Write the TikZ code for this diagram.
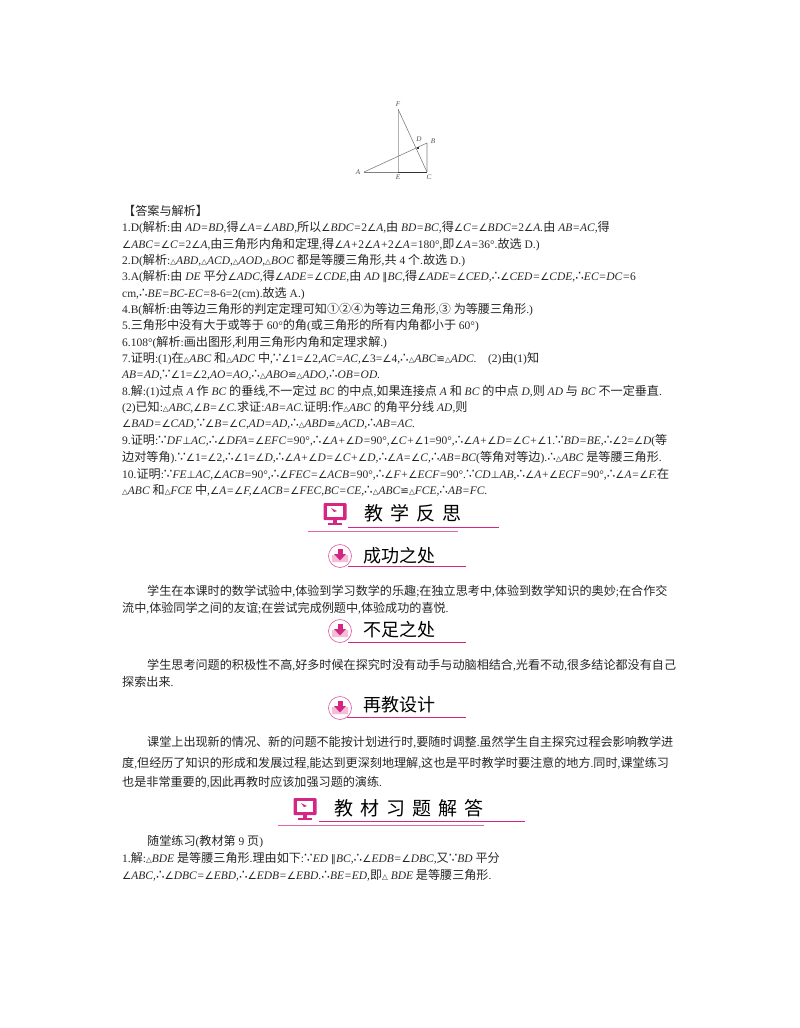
\documentclass[tikz,border=0pt]{standalone}
\usepackage{fontspec}
\setmainfont[Scale=0.95]{Liberation Serif}
\newfontfamily\cjk{Noto Sans CJK SC}
\newfontfamily\symf[Scale=0.85]{DejaVu Sans}
\newfontfamily\ptsf[Scale=1.12]{DejaVu Sans}
\newfontfamily\trif[Scale=0.62]{DejaVu Sans}
\XeTeXinterchartokenstate=1
\newXeTeXintercharclass\zhclass
\newXeTeXintercharclass\symclass
\newXeTeXintercharclass\ptsclass
\newXeTeXintercharclass\triclass
\newcount\zhcount
\newcommand{\setrange}[3]{\zhcount=#2 \loop\XeTeXcharclass\zhcount=#1\ifnum\zhcount<#3 \advance\zhcount by 1 \repeat}
\setrange{\zhclass}{"4E00}{"9FFF}
\setrange{\zhclass}{"3000}{"301F}
\setrange{\zhclass}{"2460}{"2473}
\setrange{\symclass}{"2220}{"2220}
\setrange{\ptsclass}{"2234}{"2235}
\setrange{\symclass}{"224C}{"224C}
\setrange{\symclass}{"2225}{"2225}
\setrange{\symclass}{"22A5}{"22A5}
\setrange{\triclass}{"25B3}{"25B3}
% font switches between the character classes
\newcommand{\enterclass}[2]{%
  \XeTeXinterchartoks 0 #1 = {\begingroup#2}%
  \XeTeXinterchartoks 4095 #1 = {\begingroup#2}%
  \XeTeXinterchartoks #1 0 = {\endgroup}%
  \XeTeXinterchartoks #1 4095 = {\endgroup}%
  \XeTeXinterchartoks \zhclass #1 = {\endgroup\begingroup#2}%
  \XeTeXinterchartoks \symclass #1 = {\endgroup\begingroup#2}%
  \XeTeXinterchartoks \ptsclass #1 = {\endgroup\begingroup#2}%
  \XeTeXinterchartoks \triclass #1 = {\endgroup\begingroup#2}}
\enterclass{\zhclass}{\cjk}
\enterclass{\symclass}{\symf}
\enterclass{\ptsclass}{\ptsf}
\enterclass{\triclass}{\trif}
\definecolor{rose}{RGB}{214,38,132}
\definecolor{rosepale}{RGB}{245,190,215}
\newcommand{\mi}[1]{\textit{#1}}
\tikzset{
  txtline/.style={anchor=west, inner sep=0pt, font=\fontsize{12.1}{14}\selectfont, text=black!85},
  headbig/.style={anchor=west, inner sep=0pt, font=\fontsize{19}{21}\selectfont},
  headsmall/.style={anchor=west, inner sep=0pt, font=\fontsize{18}{20}\selectfont},
  ptlabel/.style={inner sep=0pt, font=\fontsize{7.5}{8}\selectfont\itshape, text=black!70},
  seg/.style={draw=black!50, line width=0.6pt},
  rule/.style={draw=rose, line width=0.9pt},
  rulepale/.style={draw=rose!70, line width=0.7pt},
}
\newcommand{\monitor}[2]{%
  \fill[rose, rounded corners=1pt] (#1-11.5,#2-11) rectangle (#1+11.5,#2+6);
  \fill[white] (#1-8,#2-8) rectangle (#1+8,#2+3);
  \fill[rose] (#1-4,#2-6) -- (#1+2,#2-3) -- (#1-1,#2-2) -- cycle;
  \fill[rose] (#1-2,#2+6) rectangle (#1+2,#2+9);
  \fill[rose] (#1-7,#2+9) rectangle (#1+7,#2+11);
}
\newcommand{\downicon}[2]{%
  \draw[rose!70, line width=0.7pt, fill=white] (#1,#2) circle (11.5);
  \fill[rosepale] (#1-8,#2-1) -- (#1-3,#2-1) -- (#1,#2+3) -- (#1+3,#2-1) -- (#1+8,#2-1) -- (#1+8,#2+6) -- (#1-8,#2+6) -- cycle;
  \fill[rose] (#1-2.5,#2-7) rectangle (#1+2.5,#2-1);
  \fill[rose] (#1-6,#2-2) -- (#1+6,#2-2) -- (#1,#2+4.5) -- cycle;
}
\begin{document}
\begin{tikzpicture}[x=1pt, y=-1pt]
\useasboundingbox (0,0) rectangle (800,1028);

% triangle figure
\coordinate (A) at (364,172);
\coordinate (E) at (398,172);
\coordinate (C) at (427,172);
\coordinate (F) at (398,109);
\coordinate (B) at (427,143);
\coordinate (D) at (417,148);
\draw[seg] (A) -- (E);
\draw[black!80, line width=1pt] (E) -- (C);
\draw[black!30, line width=0.6pt] (F) -- (E);
\draw[seg] (F) -- (C);
\draw[seg] (A) -- (B) -- (C);
\fill[black!80] (417,146.5) rectangle (419,148.5);
\node[ptlabel] (lblF) at (398,104) {F};
\node[ptlabel] (lblD) at (419,139) {D};
\node[ptlabel] (lblB) at (433,141) {B};
\node[ptlabel] (lblA) at (358,172) {A};
\node[ptlabel] (lblE) at (398,177) {E};
\node[ptlabel] (lblC) at (429,177) {C};

% answers
\node[txtline] (l0) at (123,211) {【答案与解析】};
\node[txtline] (l1) at (122,228) {1.D(解析:由 \mi{AD=BD,}得∠\mi{A=}∠\mi{ABD,}所以∠\mi{BDC=}2∠\mi{A,}由 \mi{BD=BC,}得∠\mi{C=}∠\mi{BDC=}2∠\mi{A.}由 \mi{AB=AC,}得};
\node[txtline] (l2) at (122,245) {∠\mi{ABC=}∠\mi{C=}2∠\mi{A,}由三角形内角和定理,得∠\mi{A+}2∠\mi{A+}2∠\mi{A=}180°,即∠\mi{A=}36°.故选 D.)};
\node[txtline] (l3) at (122,261) {2.D(解析:△\mi{ABD,}△\mi{ACD,}△\mi{AOD,}△\mi{BOC} 都是等腰三角形,共 4 个.故选 D.)};
\node[txtline] (l4) at (122,277) {3.A(解析:由 \mi{DE} 平分∠\mi{ADC,}得∠\mi{ADE=}∠\mi{CDE,}由 \mi{AD} ∥\mi{BC,}得∠\mi{ADE=}∠\mi{CED,}∴∠\mi{CED=}∠\mi{CDE,}∴\mi{EC=DC=}6};
\node[txtline] (l5) at (122,294) {cm,∴\mi{BE=BC-EC=}8-6=2(cm).故选 A.)};
\node[txtline] (l6) at (122,310) {4.B(解析:由等边三角形的判定定理可知①②④为等边三角形,③ 为等腰三角形.)};
\node[txtline] (l7) at (122,326) {5.三角形中没有大于或等于 60°的角(或三角形的所有内角都小于 60°)};
\node[txtline] (l8) at (122,343) {6.108°(解析:画出图形,利用三角形内角和定理求解.)};
\node[txtline] (l9) at (122,359) {7.证明:(1)在△\mi{ABC} 和△\mi{ADC} 中,∵∠1=∠2,\mi{AC=AC,}∠3=∠4,∴△\mi{ABC}≌△\mi{ADC.}\quad(2)由(1)知};
\node[txtline] (l10) at (122,375) {\mi{AB=AD,}∵∠1=∠2,\mi{AO=AO,}∴△\mi{ABO}≌△\mi{ADO,}∴\mi{OB=OD.}};
\node[txtline] (l11) at (122,392) {8.解:(1)过点 \mi{A} 作 \mi{BC} 的垂线,不一定过 \mi{BC} 的中点,如果连接点 \mi{A} 和 \mi{BC} 的中点 \mi{D,}则 \mi{AD} 与 \mi{BC} 不一定垂直.};
\node[txtline] (l12) at (122,408) {(2)已知:△\mi{ABC,}∠\mi{B=}∠\mi{C.}求证:\mi{AB=AC.}证明:作△\mi{ABC} 的角平分线 \mi{AD,}则};
\node[txtline] (l13) at (122,424) {∠\mi{BAD=}∠\mi{CAD,}∵∠\mi{B=}∠\mi{C,AD=AD,}∴△\mi{ABD}≌△\mi{ACD,}∴\mi{AB=AC.}};
\node[txtline] (l14) at (122,441) {9.证明:∵\mi{DF}⊥\mi{AC,}∴∠\mi{DFA=}∠\mi{EFC=}90°,∴∠\mi{A+}∠\mi{D=}90°,∠\mi{C+}∠1=90°,∴∠\mi{A+}∠\mi{D=}∠\mi{C+}∠1.∵\mi{BD=BE,}∴∠2=∠\mi{D}(等};
\node[txtline] (l15) at (122,458) {边对等角).∵∠1=∠2,∴∠1=∠\mi{D,}∴∠\mi{A+}∠\mi{D=}∠\mi{C+}∠\mi{D,}∴∠\mi{A=}∠\mi{C,}∴\mi{AB=BC}(等角对等边).∴△\mi{ABC} 是等腰三角形.};
\node[txtline] (l16) at (122,474) {10.证明:∵\mi{FE}⊥\mi{AC,}∠\mi{ACB=}90°,∴∠\mi{FEC=}∠\mi{ACB=}90°,∴∠\mi{F+}∠\mi{ECF=}90°.∵\mi{CD}⊥\mi{AB,}∴∠\mi{A+}∠\mi{ECF=}90°,∴∠\mi{A=}∠\mi{F.}在};
\node[txtline] (l17) at (122,490) {△\mi{ABC} 和△\mi{FCE} 中,∠\mi{A=}∠\mi{F,}∠\mi{ACB=}∠\mi{FEC,BC=CE,}∴△\mi{ABC}≌△\mi{FCE,}∴\mi{AB=FC.}};

% heading one
\monitor{335}{514}
\node[headbig] (h1) at (364,513) {教\hspace{7pt}学\hspace{7pt}反\hspace{7pt}思};
\draw[rule] (348,527) -- (499,527);
\draw[rulepale] (308,531) -- (458,531);

\downicon{340}{556}
\node[headsmall] (h2) at (363,556) {成功之处};
\draw[rule] (348,566) -- (466,566);

\node[txtline] (p1) at (147,591) {学生在本课时的数学试验中,体验到学习数学的乐趣;在独立思考中,体验到数学知识的奥妙;在合作交};
\node[txtline] (p2) at (122,608) {流中,体验同学之间的友谊;在尝试完成例题中,体验成功的喜悦.};

\downicon{340}{631}
\node[headsmall] (h3) at (363,630) {不足之处};
\draw[rule] (348,642) -- (466,642);

\node[txtline] (p3) at (147,665) {学生思考问题的积极性不高,好多时候在探究时没有动手与动脑相结合,光看不动,很多结论都没有自己};
\node[txtline] (p4) at (122,682) {探索出来.};

\downicon{340}{708}
\node[headsmall] (h4) at (363,705) {再教设计};
\draw[rule] (347,717) -- (466,717);

\node[txtline] (p5) at (147,742) {课堂上出现新的情况、新的问题不能按计划进行时,要随时调整.虽然学生自主探究过程会影响教学进};
\node[txtline] (p6) at (122,763) {度,但经历了知识的形成和发展过程,能达到更深刻地理解,这也是平时教学时要注意的地方.同时,课堂练习};
\node[txtline] (p7) at (122,782) {也是非常重要的,因此再教时应该加强习题的演练.};

% heading two
\monitor{305}{809}
\node[headbig] (h5) at (334,808) {教\hspace{7pt}材\hspace{7pt}习\hspace{7pt}题\hspace{7pt}解\hspace{7pt}答};
\draw[rule] (319,821) -- (525,821);
\draw[rulepale] (278,825) -- (484,825);

\node[txtline] (q1) at (147,842) {随堂练习(教材第 9 页)};
\node[txtline] (q2) at (122,858) {1.解:△\mi{BDE} 是等腰三角形.理由如下:∵\mi{ED} ∥\mi{BC,}∴∠\mi{EDB=}∠\mi{DBC,}又∵\mi{BD} 平分};
\node[txtline] (q3) at (122,875) {∠\mi{ABC,}∴∠\mi{DBC=}∠\mi{EBD,}∴∠\mi{EDB=}∠\mi{EBD.}∴\mi{BE=ED,}即△ \mi{BDE} 是等腰三角形.};
\end{tikzpicture}
\end{document}
